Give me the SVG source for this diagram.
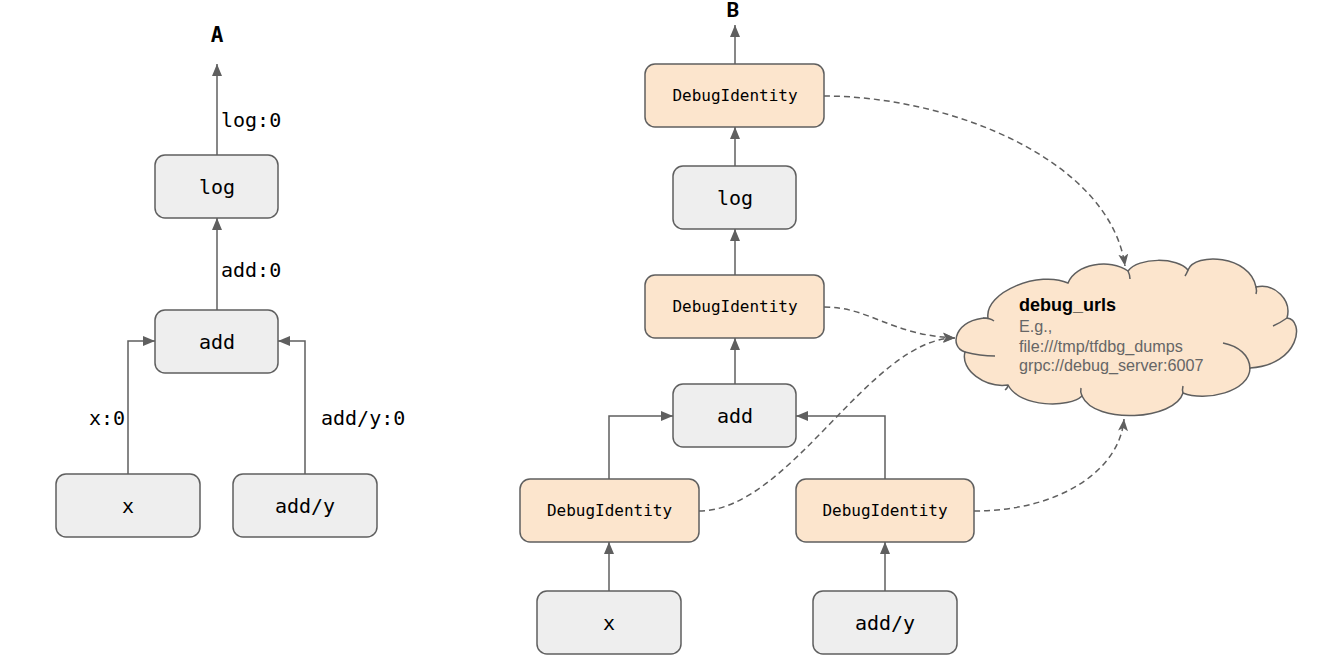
<svg xmlns="http://www.w3.org/2000/svg" width="1322" height="666" viewBox="0 0 1322 666">
<style>
.n{fill:#eeeeee;stroke:#5f5f5f;stroke-width:1.5}
.d{fill:#fce5cd;stroke:#5f5f5f;stroke-width:1.5}
.t{font-family:"DejaVu Sans Mono",monospace;font-size:20px;fill:#000;text-anchor:middle}
.ts{font-family:"DejaVu Sans Mono",monospace;font-size:16px;fill:#000;text-anchor:middle}
.lbl{font-family:"DejaVu Sans Mono",monospace;font-size:20px;fill:#000}
.e{fill:none;stroke:#5f5f5f;stroke-width:1.5;marker-end:url(#ah)}
.de{fill:none;stroke:#5f5f5f;stroke-width:1.5;stroke-dasharray:6 4;marker-end:url(#sh)}
.cl{fill:#fce5cd;stroke:#5f5f5f;stroke-width:1.5}
.hk{fill:none;stroke:#5f5f5f;stroke-width:1.5}
.ct{font-family:"Liberation Sans",Arial,sans-serif;font-size:16.2px;fill:#666666}
</style>
<defs>
<marker id="ah" viewBox="0 0 12 10" markerWidth="12" markerHeight="10" refX="12" refY="5" orient="auto" markerUnits="userSpaceOnUse"><path d="M0,0 L12,5 L0,10 z" fill="#5f5f5f"/></marker>
<marker id="sh" viewBox="0 0 12 10" markerWidth="12" markerHeight="10" refX="12" refY="5" orient="auto" markerUnits="userSpaceOnUse"><path d="M0,0 L12,5 L0,10 L3,5 z" fill="#5f5f5f"/></marker>
</defs>
<rect width="1322" height="666" fill="#ffffff"/>
<g id="connectors">
<path class="e" d="M217,155 L217,64"/>
<path class="e" d="M217,310 L217,218"/>
<path class="e" d="M128,474 L128,341 L155,341"/>
<path class="e" d="M305,474 L305,341 L278,341"/>
<path class="e" d="M735,64 L735,25"/>
<path class="e" d="M735,166 L735,127"/>
<path class="e" d="M735,275 L735,229"/>
<path class="e" d="M735,384 L735,338"/>
<path class="e" d="M609,479 L609,416 L673,416"/>
<path class="e" d="M885,479 L885,416 L796,416"/>
<path class="e" d="M609,591 L609,542"/>
<path class="e" d="M885,591 L885,542"/>
<path class="de" d="M824,96 C950,96 1110,160 1125,266"/>
<path class="de" d="M824,307 C870,307 890,335 955,338"/>
<path class="de" d="M699,511 C790,511 870,338 955,338"/>
<path class="de" d="M974,511 C1060,511 1120,470 1124,419"/>
<text class="lbl" x="221" y="127">log:0</text>
<text class="lbl" x="221" y="277">add:0</text>
<text class="lbl" x="125" y="425" text-anchor="end">x:0</text>
<text class="lbl" x="321" y="425">add/y:0</text>
</g>
<g id="titleA"><text x="217" y="42" text-anchor="middle" style="font-family:'DejaVu Sans Mono',monospace;font-weight:bold;font-size:21px">A</text></g>
<g id="titleB"><text x="733" y="17" text-anchor="middle" style="font-family:Roboto,'Liberation Sans',sans-serif;font-weight:bold;font-size:20px">B</text></g>
<g id="a_log"><rect class="n" x="155" y="155" width="123" height="63" rx="10"/><text class="t" x="217" y="193.5">log</text></g>
<g id="a_add"><rect class="n" x="155" y="310" width="123" height="63" rx="10"/><text class="t" x="217" y="348.5">add</text></g>
<g id="a_x"><rect class="n" x="56" y="474" width="144" height="63" rx="10"/><text class="t" x="128" y="512.5">x</text></g>
<g id="a_addy"><rect class="n" x="233" y="474" width="144" height="63" rx="10"/><text class="t" x="305" y="512.5">add/y</text></g>
<g id="b_dbg_top"><rect class="d" x="645" y="64" width="179" height="63" rx="10"/><text class="ts" x="735" y="101">DebugIdentity</text></g>
<g id="b_log"><rect class="n" x="673" y="166" width="123" height="63" rx="10"/><text class="t" x="735" y="204.5">log</text></g>
<g id="b_dbg_mid"><rect class="d" x="645" y="275" width="179" height="63" rx="10"/><text class="ts" x="735" y="312">DebugIdentity</text></g>
<g id="b_add"><rect class="n" x="673" y="384" width="123" height="63" rx="10"/><text class="t" x="735" y="422.5">add</text></g>
<g id="b_dbg_left"><rect class="d" x="520" y="479" width="179" height="63" rx="10"/><text class="ts" x="609.5" y="516">DebugIdentity</text></g>
<g id="b_dbg_right"><rect class="d" x="796" y="479" width="178" height="63" rx="10"/><text class="ts" x="885" y="516">DebugIdentity</text></g>
<g id="b_x"><rect class="n" x="537" y="591" width="144" height="63" rx="10"/><text class="t" x="609" y="629.5">x</text></g>
<g id="b_addy"><rect class="n" x="813" y="591" width="144" height="63" rx="10"/><text class="t" x="885" y="629.5">add/y</text></g>
<g id="debug_urls">
<path class="cl" d="M988,318 C984,292 1040,270 1068,283 C1075,264 1110,258 1128,271 C1138,257 1178,257 1188,270 C1195,252 1250,255 1256,287 C1275,283 1292,300 1287,318 C1305,320 1300,365 1250,368 C1250,392 1205,402 1183,393 C1175,420 1095,425 1082,396 C1070,408 1020,408 1008,385 C985,388 960,370 965,352 C948,347 955,318 988,318 Z"/>
<path class="hk" d="M983,318 Q990,318 994,321"/>
<path class="hk" d="M965,352 Q980,356 995,356"/>
<path class="hk" d="M1008,385 Q1008,388 1005,390"/>
<path class="hk" d="M1082,396 Q1080,392 1081,388"/>
<path class="hk" d="M1128,271 Q1130,275 1130,279"/>
<path class="hk" d="M1188,270 Q1187,273 1185,276"/>
<path class="hk" d="M1256,287 Q1257,291 1256,294"/>
<path class="hk" d="M1287,318 Q1280,323 1273,326"/>
<path class="hk" d="M1250,369 C1250,355 1238,346 1223,343"/>
<path class="hk" d="M1183,393 Q1182,390 1183,386"/>
<text x="1019" y="311" style="font-family:'Liberation Sans',Arial,sans-serif;font-weight:bold;font-size:18px;fill:#000">debug_urls</text>
<text class="ct" x="1019" y="332">E.g.,</text>
<text class="ct" x="1019" y="351.5">file:///tmp/tfdbg_dumps</text>
<text class="ct" x="1019" y="371">grpc://debug_server:6007</text>
</g>
</svg>
